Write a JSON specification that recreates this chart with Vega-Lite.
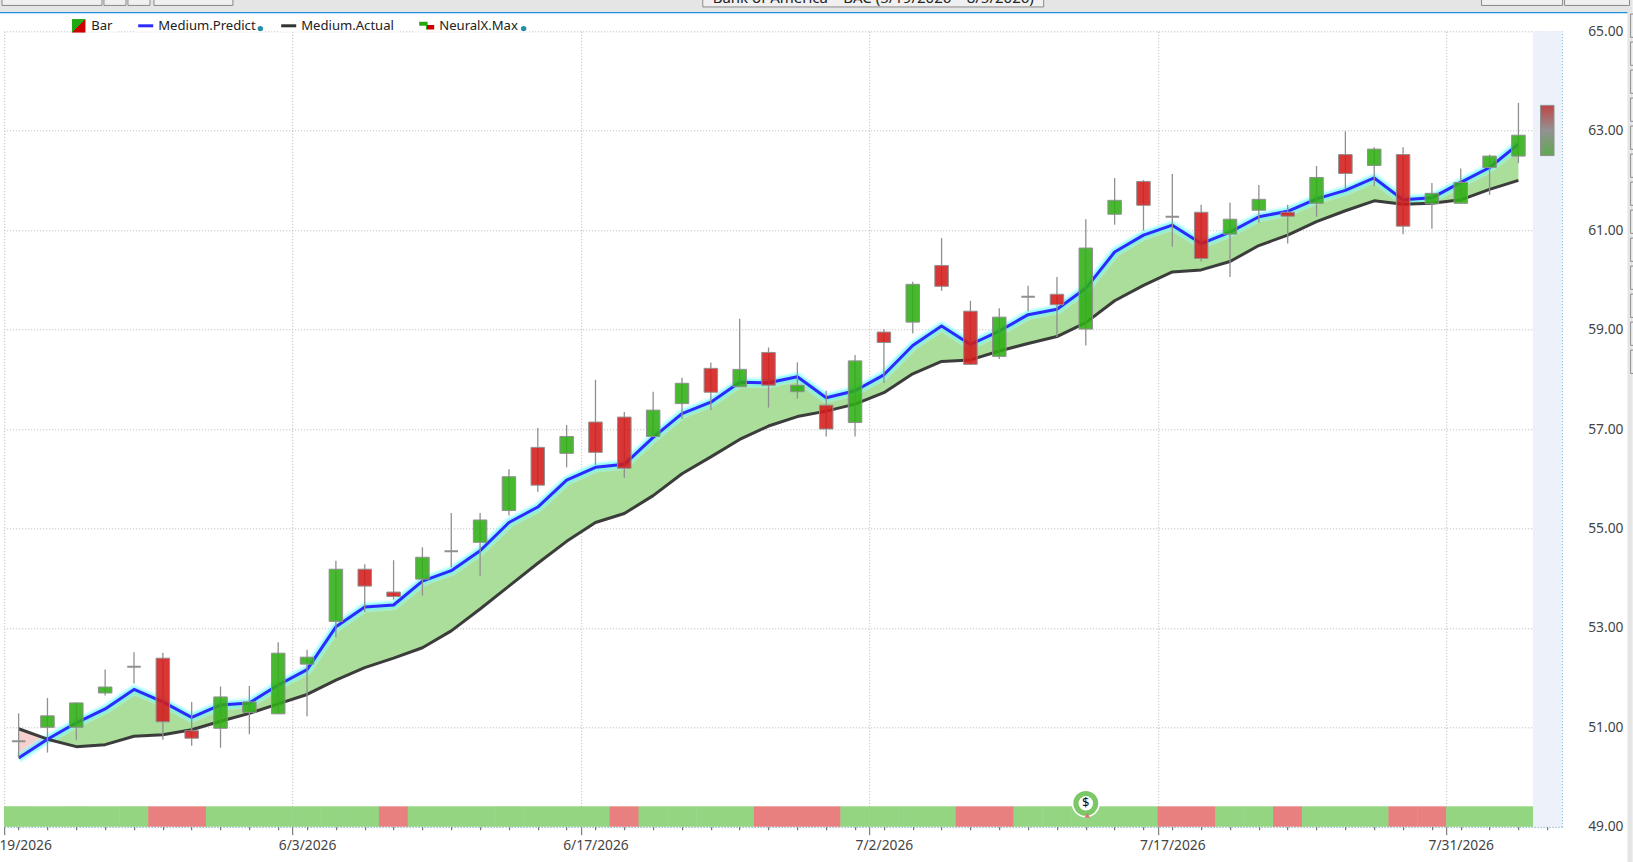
{
"$schema":"https://vega.github.io/schema/vega-lite/v6.json",
"width":1557.5,"height":795.4,
"autosize":{"type":"none"},
"padding":{"left":4.2,"top":31.3,"right":71.3,"bottom":35.3},
"background":"#ffffff",
"view":{"stroke":null},
"config":{"font":"Noto Sans","axis":{"labelFont":"Noto Sans","labelFontSize":13.8,"labelColor":"#444444","title":null}},
"datasets":{
"main":[
{"bar":0,"date":"5/19/2026","open":50.72,"high":51.28,"low":50.38,"close":50.72,"predict":50.38,"actual":50.97,"trend":"flat","signal":"up"},
{"bar":1,"date":"5/20/2026","open":51.00,"high":51.59,"low":50.49,"close":51.23,"predict":50.76,"actual":50.76,"trend":"up","signal":"up"},
{"bar":2,"date":"5/21/2026","open":51.00,"high":51.50,"low":50.75,"close":51.49,"predict":51.09,"actual":50.61,"trend":"up","signal":"up"},
{"bar":3,"date":"5/22/2026","open":51.69,"high":52.16,"low":51.64,"close":51.81,"predict":51.37,"actual":50.65,"trend":"up","signal":"up"},
{"bar":4,"date":"5/26/2026","open":52.22,"high":52.51,"low":51.88,"close":52.22,"predict":51.76,"actual":50.82,"trend":"flat","signal":"up"},
{"bar":5,"date":"5/27/2026","open":52.39,"high":52.50,"low":50.75,"close":51.11,"predict":51.51,"actual":50.85,"trend":"down","signal":"down"},
{"bar":6,"date":"5/28/2026","open":50.93,"high":51.51,"low":50.63,"close":50.78,"predict":51.20,"actual":50.95,"trend":"down","signal":"down"},
{"bar":7,"date":"5/29/2026","open":50.98,"high":51.82,"low":50.59,"close":51.61,"predict":51.45,"actual":51.12,"trend":"up","signal":"up"},
{"bar":8,"date":"6/1/2026","open":51.30,"high":51.83,"low":50.86,"close":51.51,"predict":51.49,"actual":51.28,"trend":"up","signal":"up"},
{"bar":9,"date":"6/2/2026","open":51.27,"high":52.71,"low":51.27,"close":52.49,"predict":51.85,"actual":51.47,"trend":"up","signal":"up"},
{"bar":10,"date":"6/3/2026","open":52.27,"high":52.56,"low":51.22,"close":52.41,"predict":52.16,"actual":51.66,"trend":"up","signal":"up"},
{"bar":11,"date":"6/4/2026","open":53.13,"high":54.35,"low":52.81,"close":54.18,"predict":53.02,"actual":51.95,"trend":"up","signal":"up"},
{"bar":12,"date":"6/5/2026","open":54.18,"high":54.28,"low":53.32,"close":53.84,"predict":53.42,"actual":52.20,"trend":"down","signal":"up"},
{"bar":13,"date":"6/8/2026","open":53.72,"high":54.36,"low":53.57,"close":53.63,"predict":53.46,"actual":52.39,"trend":"down","signal":"down"},
{"bar":14,"date":"6/9/2026","open":53.98,"high":54.62,"low":53.65,"close":54.42,"predict":53.94,"actual":52.60,"trend":"up","signal":"up"},
{"bar":15,"date":"6/10/2026","open":54.54,"high":55.31,"low":54.22,"close":54.54,"predict":54.15,"actual":52.94,"trend":"flat","signal":"up"},
{"bar":16,"date":"6/11/2026","open":54.72,"high":55.31,"low":54.05,"close":55.17,"predict":54.55,"actual":53.38,"trend":"up","signal":"up"},
{"bar":17,"date":"6/12/2026","open":55.36,"high":56.19,"low":55.26,"close":56.04,"predict":55.12,"actual":53.84,"trend":"up","signal":"up"},
{"bar":18,"date":"6/15/2026","open":56.63,"high":57.02,"low":55.74,"close":55.87,"predict":55.43,"actual":54.30,"trend":"down","signal":"up"},
{"bar":19,"date":"6/16/2026","open":56.51,"high":57.08,"low":56.23,"close":56.85,"predict":55.97,"actual":54.74,"trend":"up","signal":"up"},
{"bar":20,"date":"6/17/2026","open":57.14,"high":57.99,"low":56.28,"close":56.53,"predict":56.23,"actual":55.12,"trend":"down","signal":"up"},
{"bar":21,"date":"6/18/2026","open":57.24,"high":57.34,"low":56.02,"close":56.21,"predict":56.29,"actual":55.30,"trend":"down","signal":"down"},
{"bar":22,"date":"6/22/2026","open":56.85,"high":57.75,"low":56.85,"close":57.38,"predict":56.83,"actual":55.66,"trend":"up","signal":"up"},
{"bar":23,"date":"6/23/2026","open":57.51,"high":58.03,"low":57.20,"close":57.92,"predict":57.31,"actual":56.10,"trend":"up","signal":"up"},
{"bar":24,"date":"6/24/2026","open":58.22,"high":58.34,"low":57.38,"close":57.74,"predict":57.54,"actual":56.44,"trend":"down","signal":"up"},
{"bar":25,"date":"6/25/2026","open":57.85,"high":59.22,"low":57.85,"close":58.20,"predict":57.94,"actual":56.79,"trend":"up","signal":"up"},
{"bar":26,"date":"6/26/2026","open":58.54,"high":58.64,"low":57.43,"close":57.88,"predict":57.93,"actual":57.06,"trend":"down","signal":"down"},
{"bar":27,"date":"6/29/2026","open":57.75,"high":58.34,"low":57.61,"close":57.88,"predict":58.05,"actual":57.25,"trend":"up","signal":"down"},
{"bar":28,"date":"6/30/2026","open":57.48,"high":57.77,"low":56.85,"close":57.00,"predict":57.63,"actual":57.36,"trend":"down","signal":"down"},
{"bar":29,"date":"7/1/2026","open":57.13,"high":58.49,"low":56.85,"close":58.37,"predict":57.77,"actual":57.50,"trend":"up","signal":"up"},
{"bar":30,"date":"7/2/2026","open":58.95,"high":59.01,"low":57.93,"close":58.74,"predict":58.09,"actual":57.73,"trend":"down","signal":"up"},
{"bar":31,"date":"7/6/2026","open":59.15,"high":59.96,"low":58.92,"close":59.91,"predict":58.68,"actual":58.11,"trend":"up","signal":"up"},
{"bar":32,"date":"7/7/2026","open":60.29,"high":60.84,"low":59.78,"close":59.87,"predict":59.07,"actual":58.36,"trend":"down","signal":"up"},
{"bar":33,"date":"7/8/2026","open":59.37,"high":59.58,"low":58.30,"close":58.30,"predict":58.70,"actual":58.39,"trend":"down","signal":"down"},
{"bar":34,"date":"7/9/2026","open":58.46,"high":59.43,"low":58.41,"close":59.25,"predict":58.97,"actual":58.57,"trend":"up","signal":"down"},
{"bar":35,"date":"7/10/2026","open":59.66,"high":59.88,"low":59.37,"close":59.66,"predict":59.30,"actual":58.72,"trend":"flat","signal":"up"},
{"bar":36,"date":"7/13/2026","open":59.71,"high":60.06,"low":58.85,"close":59.50,"predict":59.41,"actual":58.86,"trend":"down","signal":"up"},
{"bar":37,"date":"7/14/2026","open":59.01,"high":61.22,"low":58.68,"close":60.64,"predict":59.83,"actual":59.14,"trend":"up","signal":"up"},
{"bar":38,"date":"7/15/2026","open":61.32,"high":62.05,"low":61.11,"close":61.60,"predict":60.56,"actual":59.58,"trend":"up","signal":"up"},
{"bar":39,"date":"7/16/2026","open":61.98,"high":62.01,"low":60.99,"close":61.50,"predict":60.90,"actual":59.89,"trend":"down","signal":"up"},
{"bar":40,"date":"7/17/2026","open":61.27,"high":62.13,"low":60.67,"close":61.27,"predict":61.10,"actual":60.16,"trend":"flat","signal":"down"},
{"bar":41,"date":"7/20/2026","open":61.36,"high":61.51,"low":60.37,"close":60.43,"predict":60.73,"actual":60.20,"trend":"down","signal":"down"},
{"bar":42,"date":"7/21/2026","open":60.92,"high":61.55,"low":60.06,"close":61.22,"predict":60.96,"actual":60.37,"trend":"up","signal":"up"},
{"bar":43,"date":"7/22/2026","open":61.40,"high":61.91,"low":61.15,"close":61.62,"predict":61.27,"actual":60.69,"trend":"up","signal":"up"},
{"bar":44,"date":"7/23/2026","open":61.36,"high":61.51,"low":60.73,"close":61.28,"predict":61.38,"actual":60.90,"trend":"down","signal":"down"},
{"bar":45,"date":"7/24/2026","open":61.54,"high":62.29,"low":61.27,"close":62.06,"predict":61.63,"actual":61.17,"trend":"up","signal":"up"},
{"bar":46,"date":"7/27/2026","open":62.52,"high":62.99,"low":61.83,"close":62.14,"predict":61.80,"actual":61.39,"trend":"down","signal":"up"},
{"bar":47,"date":"7/28/2026","open":62.30,"high":62.67,"low":61.89,"close":62.63,"predict":62.05,"actual":61.59,"trend":"up","signal":"up"},
{"bar":48,"date":"7/29/2026","open":62.52,"high":62.67,"low":60.92,"close":61.08,"predict":61.61,"actual":61.52,"trend":"down","signal":"down"},
{"bar":49,"date":"7/30/2026","open":61.53,"high":61.95,"low":61.03,"close":61.74,"predict":61.65,"actual":61.54,"trend":"up","signal":"down"},
{"bar":50,"date":"7/31/2026","open":61.54,"high":62.24,"low":61.54,"close":61.96,"predict":61.96,"actual":61.61,"trend":"up","signal":"up"},
{"bar":51,"date":"8/3/2026","open":62.26,"high":62.52,"low":61.71,"close":62.49,"predict":62.26,"actual":61.82,"trend":"up","signal":"up"},
{"bar":52,"date":"8/4/2026","open":62.49,"high":63.56,"low":62.35,"close":62.91,"predict":62.73,"actual":62.00,"trend":"up","signal":"up"}
],
"forecast":[{"bar":53,"date":"8/5/2026","open":62.50,"close":63.51}],
"marker":[{"bar":37,"date":"7/14/2026","price":49.47,"label":"$"}],
"markerTail":[{"bar":37.05,"price":49.23}],
"legendDots":[{"bar":8.38,"price":65.054},{"bar":17.51,"price":65.054}],
"legendGaps":[{"x0":1.85,"x1":3.44,"y0":64.99,"y1":65.25},{"x0":4.03,"x1":8.54,"y0":64.99,"y1":65.25},{"x0":9.02,"x1":13.15,"y0":64.99,"y1":65.25},{"x0":13.74,"x1":17.7,"y0":64.99,"y1":65.25}],
"chromeBands":[{"x0":-0.646,"x1":55.96,"y0":65.374,"y1":65.63},{"x0":55.78,"x1":55.96,"y0":48.29,"y1":65.374}],
"chromeBoxes":[
{"x0":-0.576,"x1":2.89,"y0":65.52,"y1":65.7},
{"x0":2.959,"x1":3.722,"y0":65.52,"y1":65.7},
{"x0":3.791,"x1":4.554,"y0":65.52,"y1":65.7},
{"x0":4.692,"x1":7.43,"y0":65.52,"y1":65.7},
{"x0":23.72,"x1":35.54,"y0":65.49,"y1":65.7},
{"x0":50.72,"x1":53.53,"y0":65.52,"y1":65.7},
{"x0":53.6,"x1":55.85,"y0":65.52,"y1":65.7},
{"x0":55.89,"x1":56.2,"y0":64.879,"y1":65.348},
{"x0":55.89,"x1":56.2,"y0":64.316,"y1":64.785},
{"x0":55.89,"x1":56.2,"y0":63.752,"y1":64.221},
{"x0":55.89,"x1":56.2,"y0":63.189,"y1":63.658},
{"x0":55.89,"x1":56.2,"y0":62.626,"y1":63.095},
{"x0":55.89,"x1":56.2,"y0":62.062,"y1":62.531},
{"x0":55.89,"x1":56.2,"y0":61.499,"y1":61.968},
{"x0":55.89,"x1":56.2,"y0":60.935,"y1":61.404},
{"x0":55.89,"x1":56.2,"y0":60.372,"y1":60.841},
{"x0":55.89,"x1":56.2,"y0":59.809,"y1":60.278},
{"x0":55.89,"x1":56.2,"y0":59.245,"y1":59.714},
{"x0":55.89,"x1":56.2,"y0":58.682,"y1":59.151},
{"x0":55.89,"x1":56.2,"y0":58.118,"y1":58.587}
],
"chromeTitle":[{"bar":29.63,"price":65.57,"label":"Bank of America – BAC (5/19/2026 – 8/5/2026)"}]
},
"encoding":{
"x":{"field":"bar","type":"quantitative","scale":{"domain":[-0.5,53.5],"nice":false,"zero":false,"padding":0},"axis":null},
"y":{"field":"open","type":"quantitative","scale":{"domain":[49,65],"nice":false,"zero":false},"axis":{"orient":"right","values":[49,51,53,55,57,59,61,63,65],"format":".2f","grid":true,"gridColor":"#b5b5b5","gridDash":[1,2],"gridWidth":1,"ticks":false,"domain":true,"domainColor":"#3b8fc4","domainDash":[1,2],"domainWidth":1,"labelPadding":26,"labelAlign":"left","labelFlush":false,"labelBound":false,"labelOverlap":false,"title":null}}
},
"layer":[
{"data":{"name":"forecast"},"mark":{"type":"bar","width":28.85,"color":"#edf1f9"},
 "encoding":{
  "x":{"field":"bar","type":"quantitative","scale":{"domain":[-0.5,53.5],"nice":false,"zero":false,"padding":0},"axis":{"orient":"bottom","values":[-0.5,9.5,19.5,29.5,39.5,49.5],"grid":true,"gridColor":"#b5b5b5","gridDash":[1,2],"gridWidth":1,"labels":false,"domain":false,"ticks":true,"tickSize":8,"tickColor":"#666666","title":null}},
  "y":{"datum":49,"type":"quantitative"},
  "y2":{"datum":65}}},
{"data":{"name":"main"},"mark":{"type":"bar","width":29.3},
 "encoding":{
  "x":{"field":"bar","type":"quantitative","scale":{"domain":[-0.5,53.5],"nice":false,"zero":false,"padding":0},"axis":{"orient":"bottom","values":[0,1,2,3,4,5,6,7,8,9,10,11,12,13,14,15,16,17,18,19,20,21,22,23,24,25,26,27,28,29,30,31,32,33,34,35,36,37,38,39,40,41,42,43,44,45,46,47,48,49,50,51,52,53],"format":"d","labelExpr":"{'0':'5/19/2026','10':'6/3/2026','20':'6/17/2026','30':'7/2/2026','40':'7/17/2026','50':'7/31/2026'}[datum.label] || ''","labelOverlap":false,"labelBound":false,"labelFlush":false,"labelPadding":9,"grid":false,"ticks":true,"tickSize":3,"tickColor":"#555555","domain":true,"domainColor":"#3b8fc4","domainDash":[1,2],"domainWidth":1,"title":null}},
  "y":{"datum":49,"type":"quantitative"},"y2":{"datum":49.41},
  "fill":{"condition":{"test":"datum.signal==='down'","value":"#e98080"},"value":"#93d581"}}},
{"data":{"name":"main"},"transform":[{"filter":"datum.bar<=1"}],"mark":{"type":"area","color":"#f5cccc","opacity":0.95},
 "encoding":{"y":{"field":"predict","type":"quantitative"},"y2":{"field":"actual"}}},
{"data":{"name":"main"},"transform":[{"filter":"datum.bar>=1"}],"mark":{"type":"area","color":"#a6dc96","opacity":0.95},
 "encoding":{"y":{"field":"predict","type":"quantitative"},"y2":{"field":"actual"}}},
{"data":{"name":"main"},"mark":{"type":"line","stroke":"#aaffff","strokeWidth":11,"opacity":0.4,"strokeJoin":"round"},
 "encoding":{"y":{"field":"predict","type":"quantitative"}}},
{"data":{"name":"main"},"mark":{"type":"line","stroke":"#66f5f5","strokeWidth":7,"opacity":0.55,"strokeJoin":"round"},
 "encoding":{"y":{"field":"predict","type":"quantitative"}}},
{"data":{"name":"main"},"mark":{"type":"line","strokeWidth":3,"opacity":0.95,"strokeJoin":"round"},
 "encoding":{"y":{"field":"actual","type":"quantitative"},"color":{"datum":"Medium.Actual","type":"nominal"}}},
{"data":{"name":"main"},"mark":{"type":"line","strokeWidth":3,"strokeJoin":"round"},
 "encoding":{"y":{"field":"predict","type":"quantitative"},
  "color":{"datum":"Medium.Predict","type":"nominal","scale":{"domain":["Bar","Medium.Predict","Medium.Actual","NeuralX.Max"],"range":["#22a810","#2b2bff","#333333","#22a810"]},
   "legend":{"orient":"none","legendX":64,"legendY":-16,"direction":"horizontal","columns":4,"title":null,"symbolSize":225,"symbolStrokeWidth":0,"labelFont":"Noto Sans","labelFontSize":13.1,"labelColor":"#222222","labelOffset":5,"columnPadding":25,"gridAlign":"none","padding":3,
    "encoding":{"symbols":{
      "shape":{"condition":[{"test":"datum.value==='Bar'","value":"M-0.9,-0.9H0.9V0.9H-0.9Z"},{"test":"datum.value==='NeuralX.Max'","value":"M-1,-0.55H0.1V-0.1H1V0.5H-0.1V0H-1Z"}],"value":"M-1,-0.2H1V0.2H-1Z"},
      "fill":{"condition":[{"test":"datum.value==='Bar'","value":{"gradient":"linear","x1":0,"y1":0,"x2":1,"y2":1,"stops":[{"offset":0,"color":"#22a810"},{"offset":0.49,"color":"#22a810"},{"offset":0.51,"color":"#cc0000"},{"offset":1,"color":"#cc0000"}]}},{"test":"datum.value==='NeuralX.Max'","value":{"gradient":"linear","x1":0,"y1":0,"x2":1,"y2":0,"stops":[{"offset":0,"color":"#22a810"},{"offset":0.5,"color":"#22a810"},{"offset":0.51,"color":"#cc0000"},{"offset":1,"color":"#cc0000"}]}},{"test":"datum.value==='Medium.Predict'","value":"#2b2bff"}],"value":"#333333"},
      "stroke":{"value":"transparent"}}}}}}},
{"data":{"name":"main"},"mark":{"type":"rule","color":"#909090","strokeWidth":1.3},
 "encoding":{"y":{"field":"low","type":"quantitative"},"y2":{"field":"high"}}},
{"data":{"name":"main"},"mark":{"type":"bar","width":13.5,"stroke":"#909090","fillOpacity":0.88},
 "encoding":{"y":{"field":"open","type":"quantitative"},"y2":{"field":"close"},
  "fill":{"condition":[{"test":"datum.trend==='down'","value":"#d41a1a"},{"test":"datum.trend==='flat'","value":"#909090"}],"value":"#2fae14"},
  "strokeWidth":{"condition":{"test":"datum.trend==='flat'","value":2},"value":1}}},
{"data":{"name":"forecast"},"mark":{"type":"bar","width":13.5,"stroke":"#909090","strokeWidth":1,"fill":{"gradient":"linear","x1":0,"y1":0,"x2":0,"y2":1,"stops":[{"offset":0,"color":"#c04545"},{"offset":0.5,"color":"#929292"},{"offset":1,"color":"#5fa84f"}]}},
 "encoding":{"y":{"field":"open","type":"quantitative"},"y2":{"field":"close"}}},
{"data":{"name":"marker"},"mark":{"type":"point","filled":true,"fill":"#ffffff","size":800,"opacity":1},
 "encoding":{"y":{"field":"price","type":"quantitative"}}},
{"data":{"name":"marker"},"mark":{"type":"point","filled":true,"fill":"#7cc868","size":620,"opacity":1},
 "encoding":{"y":{"field":"price","type":"quantitative"}}},
{"data":{"name":"marker"},"mark":{"type":"point","filled":true,"fill":"#ffffff","size":210,"opacity":1},
 "encoding":{"y":{"field":"price","type":"quantitative"}}},
{"data":{"name":"markerTail"},"mark":{"type":"point","shape":"triangle-up","filled":true,"fill":"#e07070","size":30,"opacity":1},
 "encoding":{"y":{"field":"price","type":"quantitative"}}},
{"data":{"name":"marker"},"mark":{"type":"text","font":"Noto Sans","fontSize":13,"fill":"#111111"},
 "encoding":{"y":{"field":"price","type":"quantitative"},"text":{"field":"label"}}},
{"data":{"name":"legendGaps"},"mark":{"type":"rect","fill":"#ffffff"},
 "encoding":{"x":{"field":"x0","type":"quantitative"},"x2":{"field":"x1"},"y":{"field":"y0","type":"quantitative"},"y2":{"field":"y1"}}},
{"data":{"name":"legendDots"},"mark":{"type":"point","filled":true,"fill":"#2a8cab","size":30,"opacity":1},
 "encoding":{"y":{"field":"price","type":"quantitative"}}},
{"data":{"name":"chromeBands"},"mark":{"type":"rect","fill":"#e5e5e5"},
 "encoding":{"x":{"field":"x0","type":"quantitative"},"x2":{"field":"x1"},"y":{"field":"y0","type":"quantitative"},"y2":{"field":"y1"}}},
{"data":{"name":"chromeBoxes"},"mark":{"type":"rect","fill":"#f0f0f0","stroke":"#8a8a8a","strokeWidth":1},
 "encoding":{"x":{"field":"x0","type":"quantitative"},"x2":{"field":"x1"},"y":{"field":"y0","type":"quantitative"},"y2":{"field":"y1"}}},
{"data":{"name":"chromeTitle"},"mark":{"type":"text","font":"Noto Sans","fontSize":15,"fill":"#222222","baseline":"alphabetic"},
 "encoding":{"y":{"field":"price","type":"quantitative"},"text":{"field":"label"}}},
{"data":{"name":"chromeBands"},"transform":[{"filter":"datum.y0>65"}],"mark":{"type":"rule","stroke":"#1f8fd6","strokeWidth":1.2},
 "encoding":{"x":{"field":"x0","type":"quantitative"},"x2":{"datum":55.78},"y":{"field":"y0","type":"quantitative"}}}
],
"resolve":{"axis":{"x":"independent"}}
}
